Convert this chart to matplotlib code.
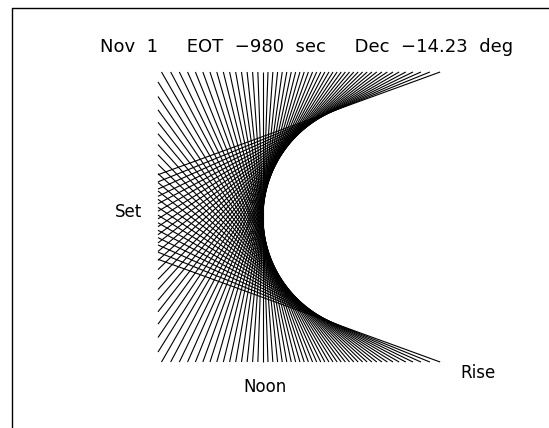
import numpy as np
import matplotlib.pyplot as plt

title = "Nov  1     EOT  \u2212980  sec     Dec  \u221214.23  deg"
labels = ["Set", "Noon", "Rise"]

# position of each line's tangent point on the envelope, degrees
# (0 = noon line, negative = morning side, positive = evening side)
line_angle = [-70, -68, -66, -64, -62, -60, -58, -56, -54, -52,
              -50, -48, -46, -44, -42, -40, -38, -36, -34, -32,
              -30, -28, -26, -24, -22, -20, -18, -16, -14, -12,
              -10, -8, -6, -4, -2, 0, 2, 4, 6, 8,
              10, 12, 14, 16, 18, 20, 22, 24, 26, 28,
              30, 32, 34, 36, 38, 40, 42, 44, 46, 48,
              50, 52, 54, 56, 58, 60, 62, 64, 66, 68, 70]

# envelope circle in pixel space
cx, cy, rad = 378.0, 217.0, 115.0
x_lo, x_hi, y_lo, y_hi = 158.0, 470.0, 72.0, 362.0


def clip(px, py, dx, dy):
    lo, hi = -1e9, 1e9
    for p, d, mn, mx in ((px, dx, x_lo, x_hi), (py, dy, y_lo, y_hi)):
        if abs(d) < 1e-12:
            continue
        l1, l2 = (mn - p) / d, (mx - p) / d
        lo = max(lo, min(l1, l2))
        hi = min(hi, max(l1, l2))
    return lo, hi


fig = plt.figure(figsize=(5.49, 4.28), dpi=100)
ax = fig.add_axes([0, 0, 1, 1])
ax.set_xlim(0, 549)
ax.set_ylim(428, 0)
ax.axis("off")

for ang in line_angle:
    psi = np.radians(ang)
    px = cx - rad * np.cos(psi)
    py = cy - rad * np.sin(psi)
    dx, dy = np.sin(psi), -np.cos(psi)
    lo, hi = clip(px, py, dx, dy)
    ax.plot([px + lo * dx, px + hi * dx], [py + lo * dy, py + hi * dy],
            color="black", lw=0.8, solid_capstyle="butt")

# frame
ax.plot([12, 12, 549], [428, 8, 8], color="black", lw=1.0)

ax.text(307, 47, title, ha="center", va="center", fontsize=13)
ax.text(142, 212, labels[0], ha="right", va="center", fontsize=12)
ax.text(265, 387, labels[1], ha="center", va="center", fontsize=12)
ax.text(460, 373, labels[2], ha="left", va="center", fontsize=12)

fig.savefig("out.png", dpi=100)
